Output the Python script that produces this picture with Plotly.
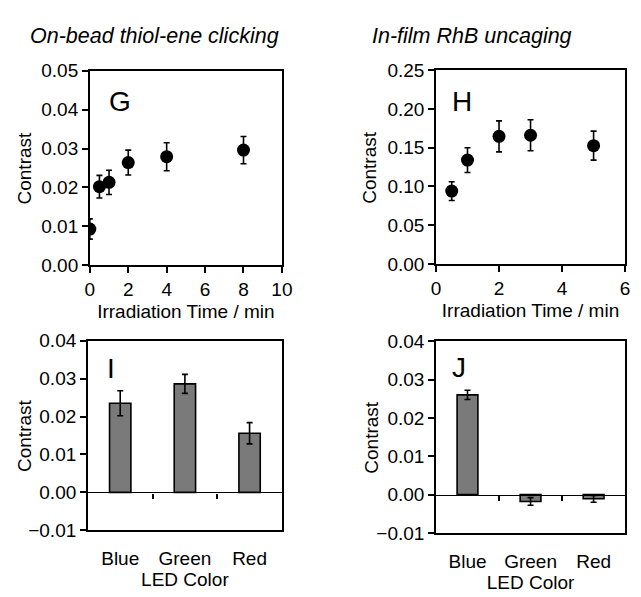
import plotly.graph_objects as go

# ---- data ----
g_time = [0, 0.5, 1, 2, 4, 8]
g_contrast = [0.0093, 0.0202, 0.0213, 0.0264, 0.0279, 0.0296]
g_err = [0.0026, 0.0029, 0.0031, 0.0032, 0.0036, 0.0035]

h_time = [0.5, 1, 2, 3, 5]
h_contrast = [0.094, 0.134, 0.1646, 0.166, 0.1526]
h_err = [0.012, 0.016, 0.020, 0.020, 0.0187]

led_colors = ["Blue", "Green", "Red"]
i_contrast = [0.0235, 0.0286, 0.0156]
i_err = [0.0033, 0.0025, 0.0028]
j_contrast = [0.0260, -0.0018, -0.0011]
j_err = [0.0012, 0.0010, 0.0009]

W, H = 641, 597
FONT = "Liberation Sans, Arial, sans-serif"
FS = 19

def px_x(a, b):
    return [a / W, b / W]

def px_y(top, bottom):
    return [1 - bottom / H, 1 - top / H]

dom = {
    "G": (px_x(87, 284), px_y(63, 264.5)),
    "H": (px_x(442, 636), px_y(62.3, 263.3)),
    "I": (px_x(85, 284), px_y(342.7, 539.3)),
    "J": (px_x(442, 636), px_y(343.3, 542)),
}

fig = go.Figure()

marker = dict(color="black", size=13)
eb = dict(type="data", color="black", thickness=1.6, width=3)

fig.add_trace(go.Scatter(x=g_time, y=g_contrast, mode="markers", marker=marker,
                         error_y=dict(array=g_err, **eb), xaxis="x", yaxis="y", showlegend=False))
fig.add_trace(go.Scatter(x=h_time, y=h_contrast, mode="markers", marker=marker,
                         error_y=dict(array=h_err, **eb), xaxis="x2", yaxis="y2", showlegend=False))
bar_style = dict(marker=dict(color="#7a7a7a", line=dict(color="black", width=1.6)), width=0.33)
fig.add_trace(go.Bar(x=led_colors, y=i_contrast, error_y=dict(array=i_err, **eb),
                     xaxis="x3", yaxis="y3", showlegend=False, **bar_style))
fig.add_trace(go.Bar(x=led_colors, y=j_contrast, error_y=dict(array=j_err, **eb),
                     xaxis="x4", yaxis="y4", showlegend=False, **bar_style))

# invisible traces so the zero-line axes (with ticks between categories) get drawn
mids = [i + 0.5 for i in range(len(led_colors) - 1)]
fig.add_trace(go.Scatter(x=mids, y=[0] * len(mids), mode="markers", marker=dict(opacity=0),
                         xaxis="x5", yaxis="y3", showlegend=False, hoverinfo="skip"))
fig.add_trace(go.Scatter(x=mids, y=[0] * len(mids), mode="markers", marker=dict(opacity=0),
                         xaxis="x6", yaxis="y4", showlegend=False, hoverinfo="skip"))

tickfont = dict(family=FONT, size=FS, color="black")
common = dict(showline=True, linecolor="black", linewidth=1.6, mirror=True,
              showgrid=False, zeroline=False, tickfont=tickfont,
              ticks="outside", ticklen=6, tickwidth=1.6, tickcolor="black")
cat_common = {**common, "ticklen": 10, "tickcolor": "rgba(0,0,0,0)"}

xt = dict(text="Irradiation Time / min", font=dict(family=FONT, size=FS, color="black"), standoff=6)
lt = dict(text="LED Color", font=dict(family=FONT, size=FS, color="black"), standoff=5)

layout = dict(
    width=W, height=H, margin=dict(l=0, r=0, t=0, b=0),
    paper_bgcolor="white", plot_bgcolor="white",
    font=dict(family=FONT, size=FS, color="black"),
    xaxis=dict(domain=dom["G"][0], anchor="y", range=[0, 10], dtick=2, title=xt, **common),
    yaxis=dict(domain=dom["G"][1], anchor="x", range=[0, 0.05], dtick=0.01, tickformat=".2f", **common),
    xaxis2=dict(domain=dom["H"][0], anchor="y2", range=[0, 6], dtick=2, title=xt, **common),
    yaxis2=dict(domain=dom["H"][1], anchor="x2", range=[0, 0.25], dtick=0.05, tickformat=".2f", **common),
    xaxis3=dict(domain=dom["I"][0], anchor="y3", range=[-0.5, 2.5], type="category", title=lt,
                **cat_common),
    yaxis3=dict(domain=dom["I"][1], anchor="x3", range=[-0.01, 0.04], dtick=0.01, tickformat=".2f",
                **common),
    xaxis4=dict(domain=dom["J"][0], anchor="y4", range=[-0.5, 2.5], type="category", title=lt,
                **cat_common),
    yaxis4=dict(domain=dom["J"][1], anchor="x4", range=[-0.01, 0.04], dtick=0.01, tickformat=".2f",
                **common),
)

def zero_pos(d, rng):
    y0, y1 = d
    return y0 + (0 - rng[0]) / (rng[1] - rng[0]) * (y1 - y0)

for name, key in (("xaxis5", "I"), ("xaxis6", "J")):
    layout[name] = dict(domain=dom[key][0], anchor="free", overlaying="x3" if key == "I" else "x4",
                        position=zero_pos(dom[key][1], [-0.01, 0.04]), range=[-0.5, 2.5],
                        tickvals=mids, showticklabels=False, showline=True, linecolor="black",
                        linewidth=1.4, ticks="outside", ticklen=5, tickwidth=1.6, tickcolor="black",
                        showgrid=False, zeroline=False)

fig.update_layout(**layout)

# y-axis titles ("Contrast"), placed at the reference positions
for key, xpx in (("G", 20), ("H", 373), ("I", 20), ("J", 375)):
    y0, y1 = dom[key][1]
    fig.add_annotation(text="Contrast", xref="paper", yref="paper", x=xpx / W, y=(y0 + y1) / 2,
                       textangle=-90, showarrow=False, xanchor="center", yanchor="middle",
                       font=dict(family=FONT, size=FS, color="black"))

# panel letters
ann_font = dict(family=FONT, size=28, color="black")
panel_labels = [("G", 118, 95), ("H", 469, 95), ("I", 109, 372), ("J", 466, 371)]
for txt, xpx, ypx in panel_labels:
    fig.add_annotation(text=txt, xref="paper", yref="paper", x=xpx / W, y=1 - ypx / H,
                       showarrow=False, font=ann_font, xanchor="center", yanchor="middle")

title_font = dict(family=FONT, size=21.5, color="black")
fig.add_annotation(text="<i>On-bead thiol-ene clicking</i>", xref="paper", yref="paper",
                   x=153 / W, y=1 - 27 / H, showarrow=False, font=title_font,
                   xanchor="center", yanchor="middle")
fig.add_annotation(text="<i>In-film RhB uncaging</i>", xref="paper", yref="paper",
                   x=479 / W, y=1 - 27 / H, showarrow=False, font=title_font,
                   xanchor="center", yanchor="middle")

fig.write_html("out.html", config={"displayModeBar": False},
               post_script="document.body.style.margin='0';document.body.style.overflow='hidden';")
